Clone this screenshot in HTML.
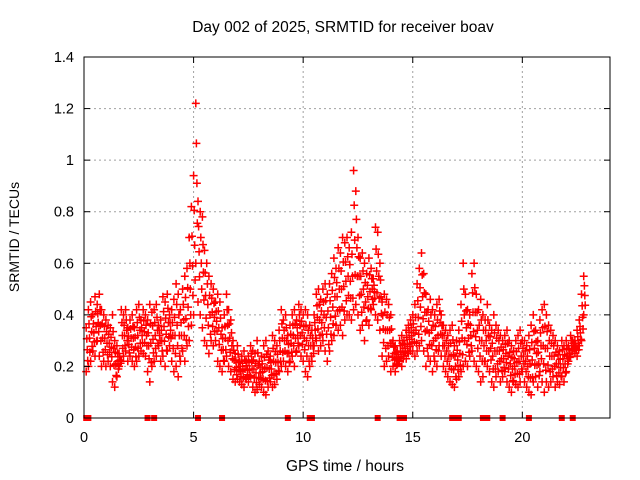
<!DOCTYPE html>
<html><head><meta charset="utf-8">
<style>
html,body{margin:0;padding:0;background:#fff;}
svg{display:block;font-family:"Liberation Sans",sans-serif;}
</style></head>
<body>
<svg id="chart" width="640" height="480" viewBox="0 0 640 480" xmlns="http://www.w3.org/2000/svg">
<text x="343" y="32" font-size="15.5" text-anchor="middle">Day 002 of 2025, SRMTID for receiver boav</text>
<text transform="translate(19,237) rotate(-90)" font-size="14" text-anchor="middle">SRMTID / TECUs</text>
<text x="345" y="471" font-size="15.5" text-anchor="middle">GPS time / hours</text>
<g id="grid"></g>
<g id="marks"></g>
<rect x="84" y="57" width="526" height="361" fill="none" stroke="#000" stroke-width="1"/>
<g id="ticks"></g>
</svg>
<script>
const xTicks=[0,5,10,15,20];
const yTicks=[0,0.2,0.4,0.6,0.8,1,1.2,1.4];
const yTickLabels=["0","0.2","0.4","0.6","0.8","1","1.2","1.4"];
const tStart=0.1, tStep=0.1;
const hiValues=[.35,.42,.45,.40,.47,.44,.48,.42,.40,.38,
.36,.35,.40,.30,.28,.25,.42,.40,.42,.35,
.38,.40,.35,.42,.44,.38,.42,.40,.38,.44,
.41,.42,.44,.36,.38,.47,.45,.48,.40,.42,
.46,.52,.48,.42,.50,.55,.58,.70,.82,.94,
1.22,.84,.80,.78,.65,.60,.55,.52,.50,.45,
.48,.45,.35,.40,.48,.42,.38,.30,.25,.28,
.22,.24,.26,.22,.24,.28,.26,.25,.30,.22,
.24,.28,.30,.26,.24,.32,.30,.28,.34,.42,
.38,.40,.32,.36,.40,.42,.38,.44,.42,.40,
.42,.40,.36,.34,.40,.48,.50,.46,.50,.52,
.48,.52,.56,.62,.58,.66,.64,.70,.68,.70,
.66,.72,.96,.88,.70,.62,.64,.60,.56,.62,
.58,.54,.74,.72,.60,.45,.48,.46,.44,.40,
.30,.28,.26,.30,.32,.30,.34,.36,.38,.40,
.44,.52,.58,.64,.56,.48,.42,.46,.42,.40,
.44,.46,.40,.36,.34,.32,.34,.36,.28,.30,
.34,.44,.60,.48,.42,.40,.56,.60,.48,.42,
.46,.40,.38,.44,.36,.34,.40,.36,.34,.32,
.30,.32,.34,.30,.28,.26,.30,.32,.34,.30,
.30,.28,.32,.36,.40,.34,.30,.38,.42,.44,
.40,.36,.34,.32,.30,.28,.26,.30,.28,.30,
.28,.32,.30,.30,.34,.38,.48,.55];
const loValues=[.18,.20,.22,.26,.24,.30,.24,.20,.22,.20,
.22,.20,.14,.12,.16,.20,.22,.24,.26,.22,
.24,.22,.20,.22,.24,.26,.25,.24,.18,.14,
.20,.22,.24,.28,.22,.24,.20,.26,.28,.22,
.18,.20,.16,.22,.26,.22,.28,.30,.36,.40,
.60,.45,.40,.35,.30,.28,.25,.30,.28,.30,
.22,.20,.18,.22,.24,.20,.18,.15,.14,.15,
.14,.13,.12,.15,.14,.16,.12,.10,.11,.13,
.12,.10,.09,.12,.14,.12,.13,.15,.18,.20,
.22,.20,.18,.22,.24,.20,.26,.28,.24,.22,
.18,.16,.20,.22,.28,.30,.26,.28,.30,.26,
.22,.26,.30,.32,.36,.34,.36,.32,.38,.40,
.40,.38,.42,.44,.40,.34,.36,.30,.38,.36,
.42,.44,.40,.38,.34,.24,.20,.22,.24,.18,
.20,.18,.21,.22,.20,.24,.23,.25,.26,.26,
.24,.26,.28,.30,.26,.20,.24,.22,.18,.22,
.20,.28,.24,.20,.18,.16,.14,.13,.12,.15,
.16,.18,.20,.22,.20,.24,.26,.22,.20,.18,
.14,.16,.22,.20,.18,.14,.12,.16,.18,.14,
.16,.18,.14,.12,.10,.14,.13,.12,.14,.18,
.14,.12,.10,.09,.14,.16,.12,.18,.14,.10,
.14,.12,.14,.16,.12,.14,.13,.16,.14,.18,
.22,.24,.26,.25,.24,.28,.30,.40];
const zeroTimes=[0.1,0.2,2.9,3.2,5.2,6.3,9.3,10.3,10.4,13.4,14.4,14.6,16.8,16.9,17.0,17.1,18.2,18.4,19.1,20.3,21.8,22.3];

const X0=84,X1=610,Y0=418,Y1=57,XMAX=24,YMAX=1.4;
const xs=t=>X0+t/XMAX*(X1-X0);
const ys=v=>Y0-v/YMAX*(Y0-Y1);
const NS="http://www.w3.org/2000/svg";
const grid=document.getElementById('grid'),marks=document.getElementById('marks'),ticks=document.getElementById('ticks');
function mk(tag,attrs,parent){const e=document.createElementNS(NS,tag);for(const k in attrs)e.setAttribute(k,attrs[k]);parent.appendChild(e);return e;}

yTicks.forEach((v,i)=>{
  const y=ys(v);
  if(v>0&&v<YMAX){const g=mk('line',{x1:X0,x2:X1,y1:y,y2:y,stroke:'#a0a0a0','stroke-dasharray':'2,3'},grid);
  
  }
  const a=mk('line',{x1:X0,x2:X0+6,y1:y,y2:y,stroke:'#000'},ticks);
  
  
  const b=mk('line',{x1:X1-6,x2:X1,y1:y,y2:y,stroke:'#000'},ticks);
  
  
  const t=mk('text',{x:X0-10,y:y+5,'font-size':'14.5','text-anchor':'end'},ticks);
  t.textContent=yTickLabels[i];
  
  
});
xTicks.forEach(v=>{
  const x=xs(v);
  if(v>0){const g=mk('line',{x1:x,x2:x,y1:Y0,y2:Y1,stroke:'#a0a0a0','stroke-dasharray':'2,3'},grid);
  
  }
  const a=mk('line',{x1:x,x2:x,y1:Y0,y2:Y0-6,stroke:'#000'},ticks);
  
  
  const b=mk('line',{x1:x,x2:x,y1:Y1,y2:Y1+6,stroke:'#000'},ticks);
  
  
  const t=mk('text',{x:x,y:Y0+24,'font-size':'14.5','text-anchor':'middle'},ticks);
  t.textContent=String(v);
  
  
});

let d='';
function cross(t,v){const x=xs(t),y=ys(v);d+=`M${(x-4).toFixed(1)} ${y.toFixed(1)}h8M${x.toFixed(1)} ${(y-4).toFixed(1)}v8`;}
hiValues.forEach((v,i)=>{
  const t=tStart+i*tStep, lo=loValues[i];
  cross(t,v);cross(t,lo);
  cross(t+0.05,(v+lo)/2);cross(t+0.03,(3*v+lo)/4);cross(t+0.07,(v+3*lo)/4);
});
const p=mk('path',{d:d,stroke:'#ff0000','stroke-width':'1.5',fill:'none'},marks);


zeroTimes.forEach(t=>{
  const r=mk('rect',{x:xs(t)-3,y:Y0-3,width:6,height:6,fill:'#ff0000'},marks);
  
  
});
</script>
</body></html>
